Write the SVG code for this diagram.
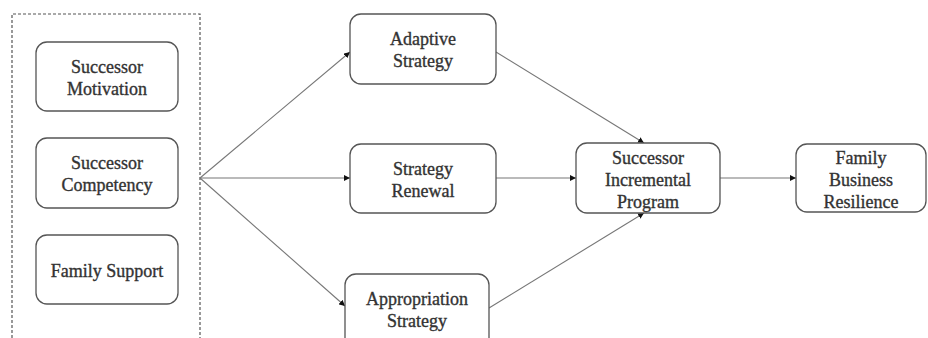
<svg xmlns="http://www.w3.org/2000/svg" width="928" height="338" viewBox="0 0 928 338">
<style>
.box{fill:#fff;stroke:#555;stroke-width:1.3}
.t{font-family:"Liberation Serif","Times New Roman",serif;font-size:18px;fill:#333;stroke:#333;stroke-width:0.35;text-anchor:middle}
.c{stroke:#777;stroke-width:1.1;fill:none}
</style>
<defs>
<marker id="ah" viewBox="0 0 10 10" refX="10" refY="5" markerWidth="6" markerHeight="6" markerUnits="userSpaceOnUse" orient="auto">
<path d="M0,0 L10,5 L0,10 z" fill="#111"/>
</marker>
</defs>
<rect width="928" height="338" fill="#fff"/>
<g id="group-box">
<path d="M12,338 L12,14 L200,14 L200,338" fill="none" stroke="#555" stroke-width="1.2" stroke-dasharray="3,2"/>
</g>
<g id="connectors">
<line class="c" x1="200" y1="178" x2="350" y2="52" marker-end="url(#ah)"/>
<line class="c" x1="200" y1="178" x2="350" y2="178" marker-end="url(#ah)"/>
<line class="c" x1="200" y1="178" x2="345" y2="306" marker-end="url(#ah)"/>
<line class="c" x1="496" y1="52" x2="644" y2="143" marker-end="url(#ah)"/>
<line class="c" x1="496" y1="178" x2="576" y2="178" marker-end="url(#ah)"/>
<line class="c" x1="489" y1="308" x2="644" y2="213" marker-end="url(#ah)"/>
<line class="c" x1="720" y1="178" x2="796" y2="178" marker-end="url(#ah)"/>
</g>
<g id="successor-motivation">
<rect class="box" x="36" y="42" width="142" height="69" rx="11"/>
<text class="t" x="107" y="73">Successor</text>
<text class="t" x="107" y="95">Motivation</text>
</g>
<g id="successor-competency">
<rect class="box" x="36" y="138" width="142" height="70" rx="11"/>
<text class="t" x="107" y="169">Successor</text>
<text class="t" x="107" y="191">Competency</text>
</g>
<g id="family-support">
<rect class="box" x="36" y="235" width="142" height="69" rx="11"/>
<text class="t" x="107" y="277">Family Support</text>
</g>
<g id="adaptive-strategy">
<rect class="box" x="350" y="14" width="146" height="70" rx="11"/>
<text class="t" x="423" y="45">Adaptive</text>
<text class="t" x="423" y="67">Strategy</text>
</g>
<g id="strategy-renewal">
<rect class="box" x="350" y="144" width="146" height="69" rx="11"/>
<text class="t" x="423" y="175">Strategy</text>
<text class="t" x="423" y="197">Renewal</text>
</g>
<g id="appropriation-strategy">
<rect class="box" x="345" y="274" width="144" height="80" rx="11"/>
<text class="t" x="417" y="305">Appropriation</text>
<text class="t" x="417" y="327">Strategy</text>
</g>
<g id="successor-incremental-program">
<rect class="box" x="576" y="143" width="144" height="70" rx="11"/>
<text class="t" x="648" y="164">Successor</text>
<text class="t" x="648" y="186">Incremental</text>
<text class="t" x="648" y="208">Program</text>
</g>
<g id="family-business-resilience">
<rect class="box" x="796" y="144" width="130" height="68" rx="11"/>
<text class="t" x="861" y="164">Family</text>
<text class="t" x="861" y="186">Business</text>
<text class="t" x="861" y="208">Resilience</text>
</g>
</svg>
